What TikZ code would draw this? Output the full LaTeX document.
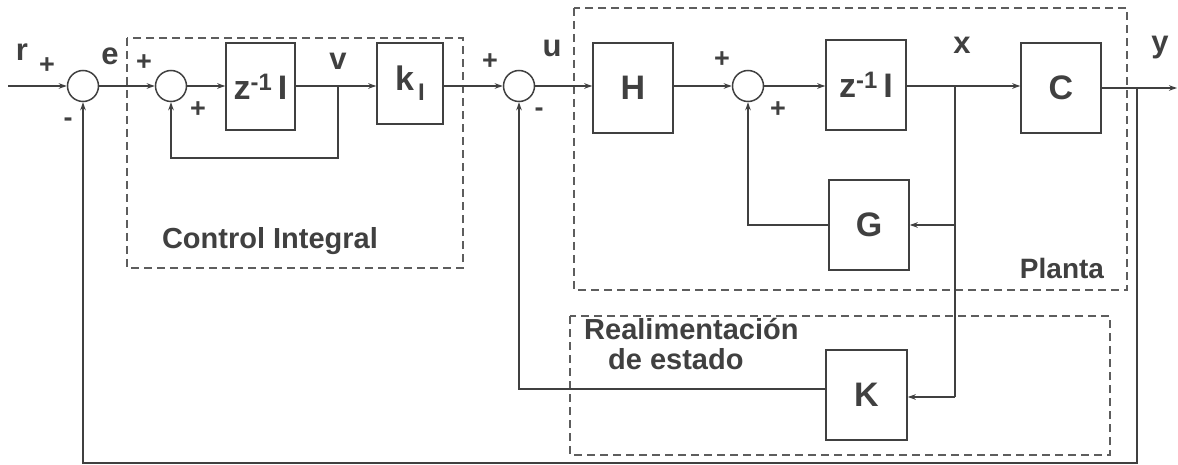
\documentclass[tikz,border=0pt]{standalone}
\usepackage{fontspec}
\setmainfont{Liberation Sans}
\usetikzlibrary{arrows.meta,calc}
\definecolor{ink}{HTML}{404040}
\begin{document}
\begin{tikzpicture}[x=1pt,y=-1pt,
  every node/.style={text=ink},
  line/.style={draw=ink,line width=1.5pt},
  arr/.style={line,-{Stealth[length=8pt,width=5.5pt]}},
  sumnode/.style={circle,draw=ink,line width=1.5pt,minimum size=31pt,inner sep=0pt},
  blk/.style={rectangle,draw=ink,line width=1.5pt,inner sep=0pt,font=\fontsize{34}{36}\selectfont\bfseries},
  grp/.style={draw=ink!85,line width=1.5pt,dash pattern=on 8pt off 5pt},
  lbl/.style={font=\fontsize{31}{33}\selectfont\bfseries,inner sep=0pt},
  sgn/.style={font=\fontsize{27}{29}\selectfont\bfseries,inner sep=0pt},
  grplbl/.style={font=\fontsize{29}{33}\selectfont\bfseries,inner sep=0pt,align=left}]
\useasboundingbox (0,0) rectangle (1178,465);

% group boxes
\draw[grp] (127,38) rectangle (463,268);
\draw[grp] (574,8) rectangle (1127,290);
\draw[grp] (570,316) rectangle (1110,455);
\node[grplbl] (ctl) at (270,241) {Control Integral};
\node[grplbl,font=\fontsize{28}{30}\selectfont\bfseries] (pla) at (1062,268) {Planta};
\node[grplbl,anchor=north west] (rea) at (584,318) {Realimentación\\[-3pt]\hspace*{24pt}de estado};

% sums
\node[sumnode] (s1) at (83,86) {};
\node[sumnode] (s2) at (171,86) {};
\node[sumnode] (s3) at (519,86) {};
\node[sumnode] (s4) at (748,86) {};

% blocks
\node[blk,minimum width=69pt,minimum height=87pt] (z1) at (260.5,86.5) {z\textsuperscript{-1}\,I};
\node[blk,minimum width=66pt,minimum height=81pt] (ki) at (410,83.5) {k\raisebox{-10pt}{\fontsize{24}{26}\selectfont\,I}};
\node[blk,minimum width=80pt,minimum height=90pt] (h) at (633,88) {H};
\node[blk,minimum width=80pt,minimum height=90pt] (z2) at (866,85) {z\textsuperscript{-1}\,I};
\node[blk,minimum width=80pt,minimum height=90pt] (c) at (1061,88) {C};
\node[blk,minimum width=80pt,minimum height=90pt] (g) at (869,225) {G};
\node[blk,minimum width=81pt,minimum height=90pt] (k) at (866.5,395) {K};

% coordinates
\coordinate (in) at (8,86);
\coordinate (vj) at (338,86);
\coordinate (xj) at (955,86);
\coordinate (out) at (1177,88);
\coordinate (yj) at (1137,88);

% connectors
\draw[arr] (in) -- (s1.west);
\draw[arr] (s1.east) -- (s2.west);
\draw[arr] (s2.east) -- (z1.west |- s2.east);
\draw[arr] (z1.east |- vj) -- (ki.west |- vj);
\draw[arr] (vj) -- (338,158) -| (s2.south);
\draw[arr] (ki.east |- s3.west) -- (s3.west);
\draw[arr] (s3.east) -- (h.west |- s3.east);
\draw[arr] (h.east |- s4.west) -- (s4.west);
\draw[arr] (s4.east) -- (z2.west |- s4.east);
\draw[arr] (z2.east |- xj) -- (c.west |- xj);
\draw[line] (xj) -- (955,397);
\draw[arr] (955,225) -- (g.east);
\draw[arr] (955,397) -- (k.east |- 0,397);
\draw[arr] (g.west) -| (s4.south);
\draw[arr] (k.west |- 0,389) -| (s3.south);
\draw[arr] (c.east |- out) -- (out);
\draw[arr] (yj) -- (1137,463) -| (s1.south);

% labels
\node[lbl] (r) at (22,52) {r};
\node[sgn] (p1) at (47,66) {+};
\node[sgn] (m1) at (68,122) {-};
\node[lbl] (e) at (110,56) {e};
\node[sgn] (p2) at (144,63) {+};
\node[sgn] (p3) at (198,110) {+};
\node[lbl] (v) at (338,61) {v};
\node[sgn] (p4) at (490,62) {+};
\node[sgn] (m3) at (539,112) {-};
\node[lbl] (u) at (552,48) {u};
\node[sgn] (p5) at (722,60) {+};
\node[sgn] (p6) at (778,110) {+};
\node[lbl] (x) at (962,45) {x};
\node[lbl] (y) at (1160,48) {y};
\end{tikzpicture}
\end{document}
